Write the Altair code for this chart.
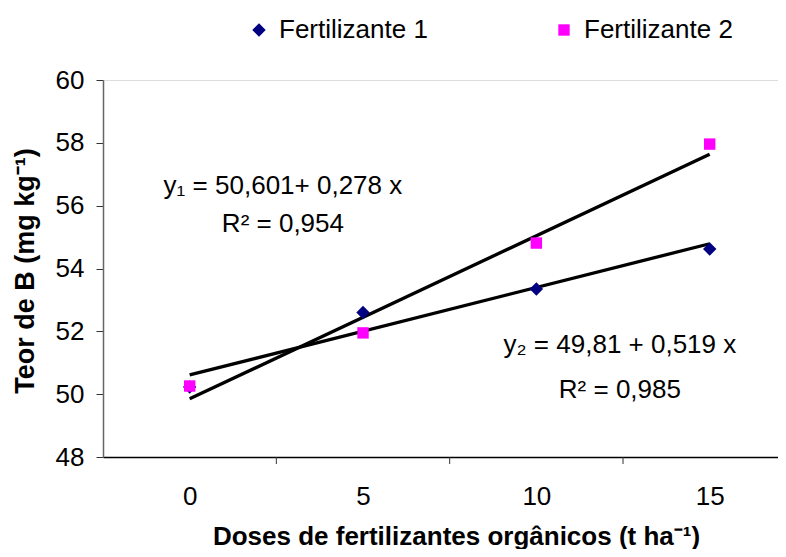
import altair as alt
import pandas as pd

# ---- data ----
doses = [0, 5, 10, 15]
fert1 = [50.23, 52.60, 53.35, 54.62]
fert2 = [50.26, 51.95, 54.81, 57.96]
series = ["Fertilizante 1", "Fertilizante 2"]
y_ticks = [48, 50, 52, 54, 56, 58, 60]
x_labels = [0, 5, 10, 15]
cat_ticks = [2.5, 7.5, 12.5]
eq_text = ["y\u2081 = 50,601+ 0,278 x", "R\u00b2 = 0,954",
           "y\u2082 = 49,81 + 0,519 x", "R\u00b2 = 0,985"]
eq_x = [2.69, 2.69, 12.41, 12.41]
eq_y = [56.62, 55.42, 51.56, 50.13]

df = pd.DataFrame({
    "dose": doses * 2,
    "teor": fert1 + fert2,
    "serie": [series[0]] * len(doses) + [series[1]] * len(doses),
})
ann = pd.DataFrame({"dose": eq_x, "teor": eq_y, "txt": eq_text})
ticks_df = pd.DataFrame({"dose": cat_ticks})

FONT = "Liberation Sans"
FS = 26
W, H = 675, 377

xscale = alt.Scale(domain=[-2.5, 16.97], nice=False, zero=False)
yscale = alt.Scale(domain=[48, 60], nice=False, zero=False)

x_axis = alt.Axis(values=x_labels, tickSize=0, labelPadding=26, grid=False,
                  domainColor="black", domainWidth=1.5,
                  labelFont=FONT, labelFontSize=FS, labelColor="black",
                  title="Doses de fertilizantes org\u00e2nicos (t ha\u207b\u00b9)",
                  titleFont=FONT, titleFontSize=26, titleFontWeight="bold",
                  titleColor="black", titleX=353, titleY=79, titleBaseline="middle")
y_axis = alt.Axis(values=y_ticks, tickSize=7, tickColor="#333", tickWidth=1,
                  labelPadding=12, grid=False, domainColor="#666", domainWidth=1.5,
                  labelFont=FONT, labelFontSize=FS, labelColor="black",
                  title="Teor de B (mg kg\u207b\u00b9)", titleFont=FONT,
                  titleFontSize=27, titleFontWeight="bold", titleColor="black",
                  titleX=-78, titleY=H / 2 + 2, titleAngle=270, titleBaseline="middle")

X = alt.X("dose:Q", scale=xscale, axis=x_axis)
Y = alt.Y("teor:Q", scale=yscale, axis=y_axis)

legend = alt.Legend(orient="none", legendX=143, legendY=-63,
                    direction="horizontal", title=None,
                    labelFont=FONT, labelFontSize=FS, labelColor="black",
                    labelOffset=7, columnPadding=123, symbolStrokeWidth=0)

lines = alt.Chart(df).transform_regression(
    "dose", "teor", groupby=["serie"], extent=[0, 15]
).mark_line(color="black", strokeWidth=3.3).encode(x=X, y=Y, detail="serie:N")

points = alt.Chart(df).mark_point(filled=True, opacity=1, strokeWidth=0).encode(
    x=X, y=Y,
    shape=alt.Shape("serie:N", scale=alt.Scale(domain=series, range=["diamond", "square"]),
                    legend=legend),
    color=alt.Color("serie:N", scale=alt.Scale(domain=series, range=["#000080", "#FF00FF"]),
                    legend=legend),
    size=alt.Size("serie:N", scale=alt.Scale(domain=series, range=[180, 130]),
                  legend=legend),
)

cticks = alt.Chart(ticks_df).mark_rule(color="#333", strokeWidth=1).encode(
    x=X, y=alt.value(H), y2=alt.value(H + 7))

texts = alt.Chart(ann).mark_text(font=FONT, fontSize=26, color="black",
                                 align="center", baseline="middle").encode(
    x=X, y=Y, text="txt:N")

chart = alt.layer(lines, points, cticks, texts).properties(
    width=W, height=H, padding={"left": 95, "top": 72, "right": 0, "bottom": 92},
    autosize="none",
).configure_view(stroke=None).configure(background="white")

chart.save("out.html", embed_options={"renderer": "svg", "actions": False})
